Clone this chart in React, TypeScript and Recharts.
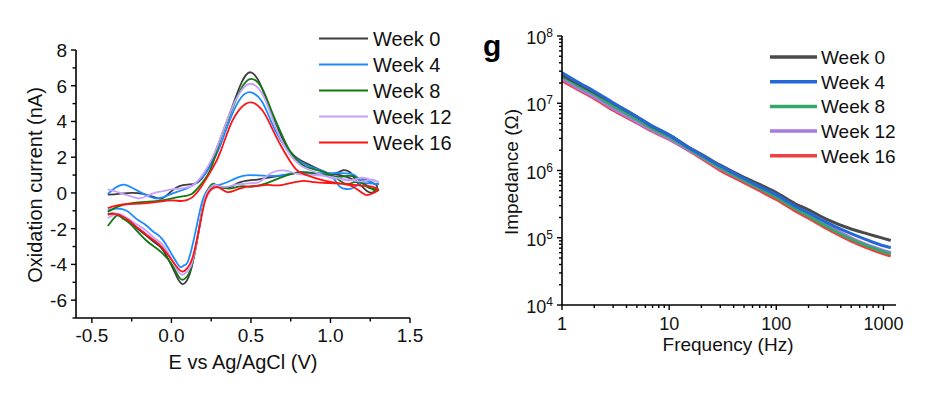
import { LineChart, Line, XAxis, YAxis } from 'recharts'

const weeks = ['Week 0', 'Week 4', 'Week 8', 'Week 12', 'Week 16']
const cvColors = ['#3d3d3d', '#1a8cff', '#117a11', '#c6a2ff', '#ff1414']
const eisColors = ['#4a4a4a', '#2468d8', '#34a86a', '#a879de', '#ee4242']

// cyclic voltammetry: [E (V), current (nA)], forward sweep then back
const cvWeek0: [number, number][] = [
  [-0.4, -0.1], [-0.33, -0.05], [-0.25, 0.0], [-0.18, -0.05], [-0.12, -0.2], [-0.06, -0.3], [0.0, 0.1],
  [0.05, 0.38], [0.1, 0.47], [0.15, 0.52], [0.19, 0.8], [0.245, 1.6], [0.308, 3.05], [0.371, 4.54],
  [0.434, 6.04], [0.5, 6.75], [0.57, 5.85], [0.623, 4.54], [0.686, 3.24], [0.748, 2.3], [0.811, 1.83],
  [0.874, 1.55], [0.92, 1.35], [0.96, 1.2], [1.0, 1.09], [1.05, 1.15], [1.08, 1.27], [1.13, 1.09],
  [1.17, 0.62], [1.21, 0.8], [1.25, 0.62], [1.29, 0.43],
  [1.28, 0.1], [1.24, 0.05], [1.2, 0.35], [1.15, 0.7], [1.1, 0.9], [1.02, 1.05], [0.92, 1.1],
  [0.81, 1.15], [0.75, 1.05], [0.64, 0.9], [0.54, 0.75], [0.434, 0.6], [0.36, 0.28], [0.31, 0.35],
  [0.27, 0.42], [0.245, 0.25], [0.21, -0.3], [0.17, -2.2], [0.13, -4.05], [0.1, -4.85], [0.07, -5.1],
  [0.04, -4.8], [0.0, -4.05], [-0.06, -3.12], [-0.11, -2.75], [-0.16, -2.37], [-0.22, -1.95],
  [-0.27, -1.55], [-0.32, -1.25], [-0.37, -1.15], [-0.4, -1.2]
]
const cvWeek4: [number, number][] = [
  [-0.4, -0.05], [-0.35, 0.3], [-0.3, 0.47], [-0.25, 0.3], [-0.2, 0.06], [-0.14, -0.2], [-0.09, -0.31],
  [-0.04, -0.2], [0.0, -0.05], [0.067, 0.15], [0.13, 0.4], [0.19, 0.85], [0.245, 1.5], [0.308, 2.68],
  [0.371, 4.17], [0.434, 5.29], [0.5, 5.63], [0.57, 5.1], [0.623, 4.08], [0.686, 2.96], [0.748, 2.2],
  [0.811, 1.74], [0.874, 1.46], [0.96, 1.18], [1.02, 0.8], [1.06, 0.34], [1.1, 0.22], [1.14, 0.28],
  [1.19, 0.53], [1.25, 0.53], [1.3, 0.5],
  [1.28, 0.5], [1.24, 0.65], [1.19, 0.75], [1.15, 1.0], [1.1, 1.1], [1.0, 1.1], [0.9, 1.1], [0.8, 1.15],
  [0.7, 1.0], [0.6, 0.95], [0.5, 1.0], [0.45, 0.95], [0.4, 0.8], [0.35, 0.6], [0.3, 0.45], [0.27, 0.42],
  [0.245, 0.35], [0.2, -0.3], [0.16, -1.8], [0.11, -3.68], [0.08, -4.05], [0.057, -4.15], [0.03, -3.85],
  [0.0, -3.4], [-0.06, -2.56], [-0.11, -2.2], [-0.16, -1.81], [-0.22, -1.45], [-0.27, -1.06],
  [-0.31, -0.9], [-0.35, -0.88], [-0.4, -0.97]
]
const cvWeek8: [number, number][] = [
  [-0.4, -1.06], [-0.34, -0.78], [-0.27, -0.6], [-0.17, -0.5], [-0.06, -0.42], [0.05, -0.22],
  [0.13, -0.04], [0.19, 0.53], [0.245, 1.3], [0.308, 2.96], [0.371, 4.45], [0.434, 5.76], [0.5, 6.38],
  [0.57, 5.85], [0.623, 4.73], [0.686, 3.42], [0.748, 2.3], [0.811, 1.65], [0.874, 1.37], [0.95, 1.2],
  [1.0, 1.0], [1.05, 0.9], [1.1, 0.95], [1.15, 0.9], [1.2, 0.55], [1.25, 0.25], [1.3, 0.2],
  [1.28, 0.15], [1.25, 0.3], [1.2, 0.55], [1.15, 0.6], [1.1, 0.5], [1.05, 0.75], [1.0, 0.95], [0.9, 1.1],
  [0.8, 1.15], [0.7, 0.9], [0.6, 0.55], [0.5, 0.34], [0.45, 0.38], [0.4, 0.3], [0.35, 0.25], [0.3, 0.35],
  [0.27, 0.5], [0.25, 0.45], [0.21, -0.3], [0.17, -2.2], [0.13, -4.0], [0.1, -4.65], [0.07, -4.86],
  [0.04, -4.6], [0.0, -3.96], [-0.06, -3.35], [-0.11, -3.0], [-0.16, -2.65], [-0.22, -2.1],
  [-0.27, -1.65], [-0.31, -1.4], [-0.34, -1.25], [-0.37, -1.5], [-0.4, -1.85]
]
const cvWeek12: [number, number][] = [
  [-0.4, 0.2], [-0.35, 0.08], [-0.31, -0.04], [-0.25, -0.2], [-0.2, -0.31], [-0.15, -0.15], [-0.1, 0.02],
  [-0.05, 0.1], [0.0, 0.2], [0.088, 0.28], [0.15, 0.53], [0.21, 1.2], [0.26, 2.0], [0.308, 3.05],
  [0.371, 4.54], [0.434, 5.66], [0.5, 6.11], [0.57, 5.57], [0.623, 4.45], [0.686, 3.05], [0.748, 2.11],
  [0.811, 1.55], [0.874, 1.27], [0.95, 1.0], [1.0, 0.85], [1.05, 0.8], [1.1, 0.7], [1.15, 0.75],
  [1.2, 0.85], [1.25, 0.75], [1.3, 0.6],
  [1.28, 0.7], [1.25, 0.75], [1.2, 0.65], [1.1, 0.75], [1.0, 0.9], [0.9, 1.0], [0.8, 1.05], [0.72, 1.25],
  [0.65, 1.2], [0.6, 0.95], [0.55, 0.6], [0.5, 0.55], [0.45, 0.5], [0.4, 0.45], [0.35, 0.35], [0.3, 0.38],
  [0.27, 0.45], [0.245, 0.3], [0.21, -0.3], [0.17, -2.2], [0.13, -3.9], [0.1, -4.4], [0.07, -4.58],
  [0.04, -4.35], [0.0, -3.68], [-0.06, -2.85], [-0.11, -2.5], [-0.16, -2.1], [-0.22, -1.75],
  [-0.27, -1.44], [-0.31, -1.25], [-0.34, -1.16], [-0.4, -1.4]
]
const cvWeek16: [number, number][] = [
  [-0.4, -0.85], [-0.34, -0.7], [-0.27, -0.62], [-0.2, -0.6], [-0.1, -0.52], [0.0, -0.42], [0.07, -0.45],
  [0.13, -0.25], [0.18, 0.25], [0.22, 0.8], [0.26, 1.4], [0.308, 2.3], [0.371, 3.8], [0.434, 4.73],
  [0.5, 5.07], [0.57, 4.64], [0.623, 3.8], [0.686, 2.68], [0.748, 1.74], [0.79, 1.27], [0.85, 1.0],
  [0.95, 0.72], [1.05, 0.55], [1.12, 0.43], [1.16, 0.25], [1.2, 0.0], [1.23, -0.12], [1.27, 0.0],
  [1.3, 0.15],
  [1.28, 0.3], [1.24, 0.38], [1.2, 0.4], [1.15, 0.45], [1.1, 0.5], [1.0, 0.55], [0.9, 0.6], [0.83, 0.68],
  [0.75, 0.55], [0.7, 0.45], [0.65, 0.42], [0.6, 0.45], [0.55, 0.4], [0.5, 0.38], [0.45, 0.3],
  [0.4, 0.15], [0.35, 0.05], [0.3, 0.3], [0.27, 0.3], [0.245, 0.15], [0.21, -0.5], [0.17, -2.2],
  [0.13, -3.7], [0.1, -4.2], [0.071, -4.4], [0.04, -4.2], [0.004, -3.78], [-0.06, -3.03], [-0.11, -2.65],
  [-0.164, -2.28], [-0.22, -1.9], [-0.27, -1.53], [-0.34, -1.2], [-0.4, -1.22]
]

// impedance spectra
const freqHz = [1, 1.5, 2, 3, 5, 7, 10, 15, 20, 30, 50, 70, 100, 150, 200, 300, 500, 700, 1000, 1170]
const zWeek0 = [2.63e7, 1.86e7, 1.45e7, 1.0e7, 6.3e6, 4.47e6, 3.39e6, 2.24e6, 1.74e6, 1.2e6, 7.9e5, 6.2e5, 4.7e5, 3.2e5, 2.6e5, 1.86e5, 1.35e5, 1.15e5, 9.8e4, 9.1e4]
const zWeek4 = [2.85e7, 1.95e7, 1.51e7, 1.02e7, 6.3e6, 4.57e6, 3.39e6, 2.24e6, 1.7e6, 1.17e6, 7.6e5, 5.75e5, 4.37e5, 2.95e5, 2.34e5, 1.66e5, 1.15e5, 9.3e4, 7.6e4, 7.1e4]
const zWeek8 = [2.5e7, 1.74e7, 1.35e7, 9.1e6, 5.75e6, 4.17e6, 3.16e6, 2.14e6, 1.62e6, 1.1e6, 7.1e5, 5.4e5, 4.0e5, 2.7e5, 2.1e5, 1.45e5, 9.5e4, 7.6e4, 6.2e4, 5.75e4]
const zWeek12 = [2.34e7, 1.58e7, 1.23e7, 8.3e6, 5.25e6, 3.9e6, 2.95e6, 2.04e6, 1.58e6, 1.07e6, 7.1e5, 5.4e5, 4.1e5, 2.8e5, 2.24e5, 1.55e5, 1.0e5, 7.9e4, 6.5e4, 6.0e4]
const zWeek16 = [2.16e7, 1.51e7, 1.17e7, 7.9e6, 5.1e6, 3.8e6, 2.9e6, 2.0e6, 1.51e6, 1.0e6, 6.6e5, 5.0e5, 3.7e5, 2.5e5, 1.95e5, 1.35e5, 8.9e4, 7.1e4, 5.75e4, 5.35e4]

// ticks
const cvETicks = [-0.5, -0.25, 0, 0.25, 0.5, 0.75, 1.0, 1.25, 1.5]
const cvITicks = [-7, -6, -5, -4, -3, -2, -1, 0, 1, 2, 3, 4, 5, 6, 7, 8]
const freqDecades = [1, 10, 100, 1000]
const zDecades = [1e4, 1e5, 1e6, 1e7]

const withMinor = (decades: number[], last: number) =>
  decades.flatMap(d => [1, 2, 3, 4, 5, 6, 7, 8, 9].map(m => m * d)).filter(v => v <= last)
const freqTicks = withMinor(freqDecades, 1300)
const zTicks = [...withMinor(zDecades, 1e8), 1e8]

const cvData = [cvWeek0, cvWeek4, cvWeek8, cvWeek12, cvWeek16].map(s => s.map(([e, i]) => ({ e, i })))
const eisRows = freqHz.map((f, k) => ({
  f, w0: zWeek0[k], w4: zWeek4[k], w8: zWeek8[k], w12: zWeek12[k], w16: zWeek16[k]
}))
const eisKeys = ['w0', 'w4', 'w8', 'w12', 'w16']

const isDecade = (v: number) => Math.abs(Math.log10(v) - Math.round(Math.log10(v))) < 1e-9

const CvXTick = ({ x, y, payload }: any) => {
  const v = payload.value
  const major = Math.abs(v * 2 - Math.round(v * 2)) < 1e-6
  return (
    <g>
      <line x1={x} y1={y} x2={x} y2={y + (major ? 5 : 3.5)} stroke="#000" strokeWidth={1.4} />
      {major && <text x={x} y={y + 24} textAnchor="middle" fontSize={19} fill="#111">{v.toFixed(1)}</text>}
    </g>
  )
}

const CvYTick = ({ x, y, payload }: any) => {
  const v = payload.value
  const major = v % 2 === 0
  return (
    <g>
      <line x1={x} y1={y} x2={x - (major ? 5 : 3.5)} y2={y} stroke="#000" strokeWidth={1.4} />
      {major && <text x={x - 9} y={y + 7} textAnchor="end" fontSize={19} fill="#111">{v}</text>}
    </g>
  )
}

const FreqTick = ({ x, y, payload }: any) => {
  const v = payload.value
  const major = isDecade(v)
  return (
    <g>
      <line x1={x} y1={y} x2={x} y2={y + (major ? 5 : 3)} stroke="#000" strokeWidth={1.4} />
      {major && <text x={x} y={y + 25} textAnchor="middle" fontSize={18} fill="#111">{v}</text>}
    </g>
  )
}

const ZTick = ({ x, y, payload }: any) => {
  const v = payload.value
  const major = isDecade(v)
  return (
    <g>
      <line x1={x} y1={y} x2={x - (major ? 5 : 3)} y2={y} stroke="#000" strokeWidth={1.4} />
      {major && (
        <text x={x - 9} y={y + 8} textAnchor="end" fontSize={18} fill="#111">
          10<tspan dy={-7} fontSize={12}>{Math.round(Math.log10(v))}</tspan>
        </text>
      )}
    </g>
  )
}

const axisStyle = { stroke: '#000', strokeWidth: 1.6 }

export default function App() {
  return (
    <div style={{
      position: 'absolute',
      left: 0,
      top: 0,
      width: 937,
      height: 398,
      background: '#fff',
      fontFamily: '"Liberation Sans", Arial, sans-serif'
    }}>
      <div style={{ position: 'absolute', left: 0, top: 0 }}>
        <LineChart width={470} height={398} margin={{ top: 50, right: 60, bottom: 50, left: 16 }}>
          <XAxis
            dataKey="e"
            type="number"
            domain={[-0.6, 1.5]}
            ticks={cvETicks}
            interval={0}
            height={30}
            tickSize={0}
            tickMargin={0}
            axisLine={axisStyle}
            tick={<CvXTick />}
            allowDataOverflow
          />
          <YAxis
            type="number"
            domain={[-7, 8]}
            ticks={cvITicks}
            interval={0}
            width={60}
            tickSize={0}
            tickMargin={0}
            axisLine={axisStyle}
            tick={<CvYTick />}
            allowDataOverflow
          />
          {cvData.map((pts, k) => (
            <Line
              key={weeks[k]}
              data={pts}
              dataKey="i"
              type="natural"
              stroke={cvColors[k]}
              strokeWidth={1.8}
              dot={false}
              activeDot={false}
              isAnimationActive={false}
            />
          ))}
        </LineChart>
      </div>

      <div style={{ position: 'absolute', left: 470, top: 0 }}>
        <LineChart width={467} height={398} data={eisRows} margin={{ top: 36, right: 41, bottom: 63, left: 32 }}>
          <XAxis
            dataKey="f"
            type="number"
            scale="log"
            domain={[1, 1310]}
            ticks={freqTicks}
            interval={0}
            height={30}
            tickSize={0}
            tickMargin={0}
            axisLine={axisStyle}
            tick={<FreqTick />}
            allowDataOverflow
          />
          <YAxis
            type="number"
            scale="log"
            domain={[1e4, 1e8]}
            ticks={zTicks}
            interval={0}
            width={60}
            tickSize={0}
            tickMargin={0}
            axisLine={axisStyle}
            tick={<ZTick />}
            allowDataOverflow
          />
          {[4, 3, 2, 0, 1].map(k => (
            <Line
              key={weeks[k]}
              dataKey={eisKeys[k]}
              type="monotone"
              stroke={eisColors[k]}
              strokeWidth={3}
              dot={false}
              activeDot={false}
              isAnimationActive={false}
            />
          ))}
        </LineChart>
      </div>

      {/* titles and legends */}
      <svg width={937} height={398} style={{ position: 'absolute', left: 0, top: 0, pointerEvents: 'none' }}>
        <text x={243} y={369} textAnchor="middle" fontSize={20} fill="#111">E vs Ag/AgCl (V)</text>
        <text transform="translate(42,185) rotate(-90)" textAnchor="middle" fontSize={20} fill="#111">
          Oxidation current (nA)
        </text>
        {weeks.map((w, k) => (
          <g key={w}>
            <line x1={319} x2={368} y1={38.5 + k * 26} y2={38.5 + k * 26} stroke={cvColors[k]} strokeWidth={2} />
            <text x={373} y={38.5 + k * 26 + 7} fontSize={20} fill="#111">{w}</text>
          </g>
        ))}

        <text x={483} y={56} fontSize={30} fontWeight="bold" fill="#000">g</text>
        <text x={728} y={351} textAnchor="middle" fontSize={19} fill="#111">Frequency (Hz)</text>
        <text transform="translate(518,172) rotate(-90)" textAnchor="middle" fontSize={19} fill="#111">
          Impedance (Ω)
        </text>
        {weeks.map((w, k) => (
          <g key={w}>
            <line x1={770} x2={817} y1={57 + k * 24.7} y2={57 + k * 24.7} stroke={eisColors[k]} strokeWidth={3.5} />
            <text x={821} y={57 + k * 24.7 + 7} fontSize={19} fill="#111">{w}</text>
          </g>
        ))}
      </svg>
    </div>
  )
}
